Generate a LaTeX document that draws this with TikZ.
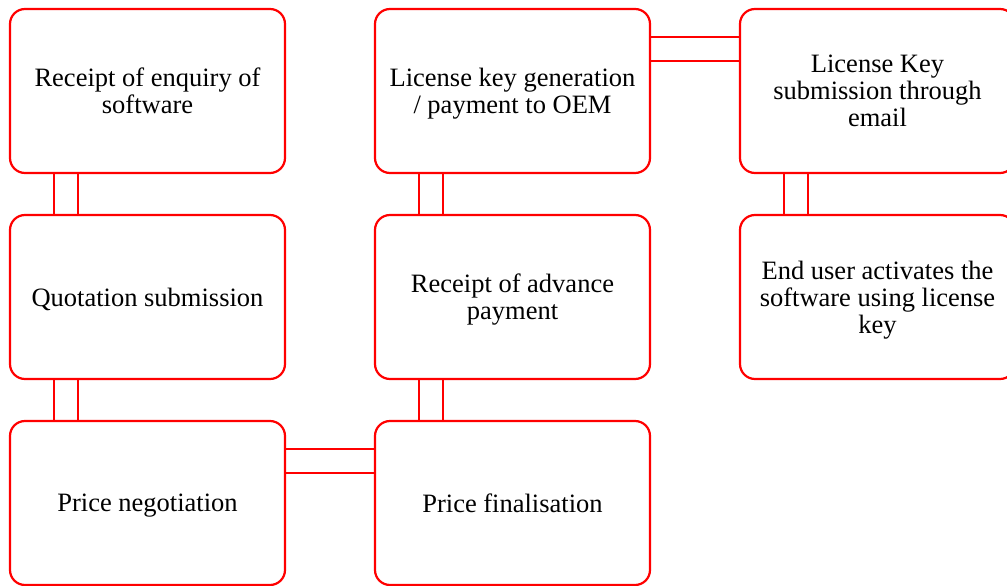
\documentclass[tikz,border=0pt]{standalone}
\usepackage{fontspec}
\setmainfont{Liberation Serif}
\usetikzlibrary{positioning}
\tikzset{
  stepbox/.style={draw=red, line width=2.2pt, rounded corners=15pt,
    minimum width=275pt, minimum height=164pt, inner sep=0pt, outer sep=0pt,
    align=center, text depth=0pt, font=\fontsize{26.5}{27}\selectfont},
  link/.style={draw=red, line width=2.2pt}
}
\begin{document}
\begin{tikzpicture}[node distance=42pt and 90pt]
  \useasboundingbox (-147.5pt,91pt) rectangle (859.5pt,-495pt);
  \clip (-147.5pt,91pt) rectangle (859.5pt,-495pt);
  % 箱
  \node[stepbox] (enquiry) at (0,0) {Receipt of enquiry of\\software};
  \node[stepbox, below=of enquiry] (quotation) {Quotation submission};
  \node[stepbox, below=of quotation] (negotiation) {Price negotiation};
  \node[stepbox, right=of negotiation] (finalisation) {Price finalisation};
  \node[stepbox, above=of finalisation] (advance) {Receipt of advance\\payment};
  \node[stepbox, above=of advance] (keygen) {License key generation\\/ payment to OEM};
  \node[stepbox, right=of keygen] (keymail) {License Key\\submission through\\email};
  \node[stepbox, below=of keymail] (activate) {End user activates the\\software using license\\key};
  % 縦の二重線
  \foreach \a/\b in {enquiry/quotation, quotation/negotiation, advance/finalisation,
                     keygen/advance, keymail/activate} {
    \draw[link] ([xshift=44pt]\a.south west) -- ([xshift=44pt]\b.north west);
    \draw[link] ([xshift=68pt]\a.south west) -- ([xshift=68pt]\b.north west);
  }
  % 横の二重線
  \foreach \a/\b in {negotiation/finalisation, keygen/keymail} {
    \draw[link] ([yshift=-28pt]\a.north east) -- ([yshift=-28pt]\b.north west);
    \draw[link] ([yshift=-52pt]\a.north east) -- ([yshift=-52pt]\b.north west);
  }
\end{tikzpicture}
\end{document}
